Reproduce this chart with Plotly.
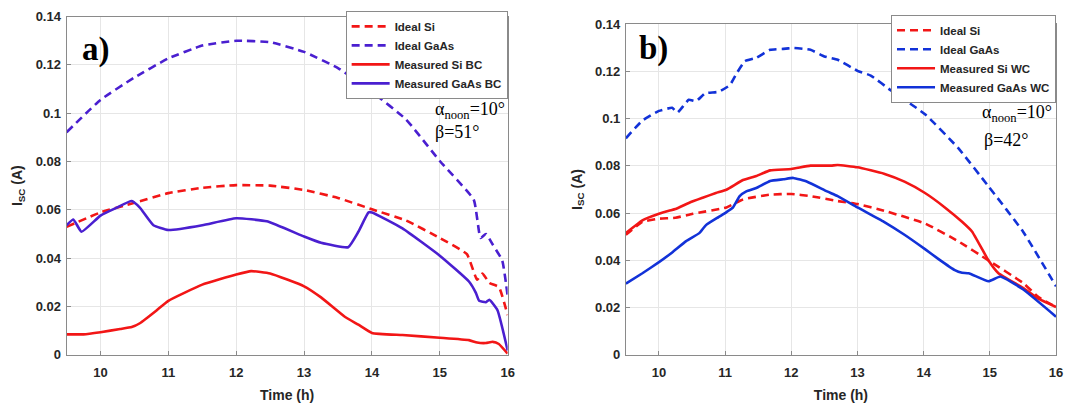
import plotly.graph_objects as go

# ---------------- data ----------------
# Panel a) (BC)
a_ideal_gaas_t = [9.5, 10.0, 10.5, 11.0, 11.5, 12.0, 12.5, 13.0, 13.5, 14.0, 14.5, 15.0, 15.5, 15.6, 15.68, 15.78, 15.92, 16.0]
a_ideal_gaas_v = [0.0921, 0.1055, 0.1148, 0.1227, 0.128, 0.130, 0.1294, 0.1254, 0.1187, 0.1088, 0.0975, 0.0802, 0.0642, 0.0483, 0.050, 0.0456, 0.039, 0.0243]

a_ideal_si_t = [9.5, 10.0, 10.5, 11.0, 11.5, 12.0, 12.5, 13.0, 13.5, 14.0, 14.5, 15.0, 15.4, 15.55, 15.63, 15.73, 15.87, 16.0]
a_ideal_si_v = [0.0529, 0.0589, 0.0629, 0.0669, 0.0691, 0.0702, 0.070, 0.0682, 0.0649, 0.0602, 0.0556, 0.0483, 0.0416, 0.031, 0.0336, 0.0297, 0.028, 0.0164]

a_meas_gaas_t = [9.5, 9.6, 9.72, 10.0, 10.24, 10.46, 10.58, 10.78, 11.0, 11.5, 12.0, 12.45, 13.0, 13.25, 13.65, 13.8, 13.95, 14.0, 14.45, 15.0, 15.43, 15.53, 15.58, 15.68, 15.73, 15.85, 16.0]
a_meas_gaas_v = [0.0536, 0.056, 0.0509, 0.0576, 0.0609, 0.0636, 0.0609, 0.0536, 0.0516, 0.0536, 0.0565, 0.0552, 0.0489, 0.0463, 0.0445, 0.0509, 0.0589, 0.0589, 0.0523, 0.041, 0.0303, 0.0257, 0.0223, 0.0217, 0.0227, 0.0184, 0.0017]

a_meas_si_t = [9.5, 9.75, 10.0, 10.29, 10.46, 10.58, 10.83, 11.0, 11.5, 12.0, 12.22, 12.5, 13.0, 13.25, 13.6, 13.8, 14.0, 14.45, 15.0, 15.43, 15.55, 15.68, 15.78, 15.87, 16.0]
a_meas_si_v = [0.0084, 0.0084, 0.0093, 0.0106, 0.0114, 0.013, 0.0184, 0.0223, 0.029, 0.0332, 0.0346, 0.0336, 0.0283, 0.0237, 0.0157, 0.0124, 0.009, 0.0081, 0.007, 0.006, 0.005, 0.0048, 0.0053, 0.0044, 0.0004]

# Panel b) (WC)
b_ideal_gaas_t = [9.5, 9.75, 10.0, 10.2, 10.28, 10.45, 10.56, 10.7, 10.9, 11.07, 11.17, 11.3, 11.47, 11.68, 11.88, 12.03, 12.29, 12.5, 12.7, 13.0, 13.2, 13.5, 14.02, 14.52, 14.98, 15.5, 16.0]
b_ideal_gaas_v = [0.0917, 0.0992, 0.1033, 0.1046, 0.1026, 0.108, 0.1074, 0.1108, 0.1114, 0.1142, 0.119, 0.1244, 0.1258, 0.1292, 0.1296, 0.130, 0.1292, 0.1264, 0.125, 0.1203, 0.1183, 0.1121, 0.1019, 0.0876, 0.0713, 0.0522, 0.029]

b_ideal_si_t = [9.5, 9.75, 10.0, 10.25, 10.51, 11.02, 11.27, 11.68, 12.0, 12.29, 12.7, 13.0, 13.4, 14.02, 14.52, 14.98, 15.5, 15.74, 16.0]
b_ideal_si_v = [0.0508, 0.0563, 0.0576, 0.058, 0.0597, 0.0624, 0.0658, 0.0678, 0.0681, 0.0672, 0.0651, 0.0638, 0.061, 0.0556, 0.0481, 0.0399, 0.0304, 0.0243, 0.0202]

b_meas_si_t = [9.5, 9.75, 10.0, 10.15, 10.25, 10.46, 10.66, 10.86, 11.02, 11.27, 11.47, 11.68, 12.0, 12.29, 12.6, 12.7, 13.0, 13.4, 13.71, 14.02, 14.32, 14.58, 14.73, 14.98, 15.13, 15.5, 15.74, 16.0]
b_meas_si_v = [0.0515, 0.0569, 0.0597, 0.061, 0.0617, 0.0644, 0.0665, 0.0685, 0.0699, 0.074, 0.0757, 0.0781, 0.0787, 0.0801, 0.0801, 0.0804, 0.0794, 0.0767, 0.0733, 0.0685, 0.0624, 0.0563, 0.0522, 0.0399, 0.0345, 0.0283, 0.0236, 0.0202]

b_meas_gaas_t = [9.5, 9.75, 10.0, 10.2, 10.41, 10.61, 10.71, 10.9, 11.02, 11.12, 11.22, 11.32, 11.47, 11.68, 11.88, 12.03, 12.24, 12.54, 12.7, 13.0, 13.4, 13.71, 14.02, 14.22, 14.47, 14.58, 14.68, 14.98, 15.16, 15.5, 16.0]
b_meas_gaas_v = [0.0301, 0.0345, 0.0392, 0.0433, 0.0481, 0.0515, 0.0549, 0.0583, 0.0604, 0.0624, 0.0672, 0.0692, 0.0706, 0.0736, 0.0743, 0.0749, 0.0733, 0.0692, 0.0672, 0.0624, 0.0563, 0.0508, 0.0447, 0.0406, 0.0358, 0.0347, 0.0345, 0.0311, 0.0331, 0.0277, 0.0161]

y_tickvals = [0, 0.02, 0.04, 0.06, 0.08, 0.1, 0.12, 0.14]
y_ticktext = ["0", "0.02", "0.04", "0.06", "0.08", "0.1", "0.12", "0.14"]
x_tickvals = [10, 11, 12, 13, 14, 15, 16]
x_ticktext = ["10", "11", "12", "13", "14", "15", "16"]

# ---------------- style ----------------
RED = "#f21616"
PURPLE = "#4a1fd0"
BLUE = "#1232d8"
LW = 2.6
DASH = "8px,5px"
W, H = 1067, 405

fig = go.Figure()

def add(x, y, name, color, dash, xa, ya, legend):
    fig.add_trace(go.Scatter(
        x=x, y=y, name=name, mode="lines",
        line=dict(color=color, width=LW, dash=dash, shape="spline", smoothing=0.4),
        xaxis=xa, yaxis=ya, legend=legend))

add(a_ideal_si_t, a_ideal_si_v, "Ideal Si", RED, DASH, "x", "y", "legend")
add(a_ideal_gaas_t, a_ideal_gaas_v, "Ideal GaAs", PURPLE, DASH, "x", "y", "legend")
add(a_meas_si_t, a_meas_si_v, "Measured Si BC", RED, "solid", "x", "y", "legend")
add(a_meas_gaas_t, a_meas_gaas_v, "Measured GaAs BC", PURPLE, "solid", "x", "y", "legend")

add(b_ideal_si_t, b_ideal_si_v, "Ideal Si", RED, DASH, "x2", "y2", "legend2")
add(b_ideal_gaas_t, b_ideal_gaas_v, "Ideal GaAs", BLUE, DASH, "x2", "y2", "legend2")
add(b_meas_si_t, b_meas_si_v, "Measured Si WC", RED, "solid", "x2", "y2", "legend2")
add(b_meas_gaas_t, b_meas_gaas_v, "Measured GaAs WC", BLUE, "solid", "x2", "y2", "legend2")

def px_x(p):
    return p / W

def px_y(p):
    return 1 - p / H

SANS = "Arial, Liberation Sans, sans-serif"
TICKFONT = dict(family=SANS, size=13, color="#262626", weight="bold")
TITLEFONT = dict(family=SANS, size=14, color="#262626", weight="bold")
LEGFONT = dict(family=SANS, size=11.5, color="#262626", weight="bold")

axis_common = dict(showgrid=True, gridcolor="#e6e6e6", gridwidth=1, showline=True,
                   linecolor="#8a8a8a", linewidth=1, mirror=True, ticks="inside",
                   ticklen=4, tickcolor="#8a8a8a", zeroline=False, tickfont=TICKFONT)

def xax(domain, anchor):
    return dict(domain=domain, range=[9.5, 16], anchor=anchor,
                tickvals=x_tickvals, ticktext=x_ticktext, ticklabelstandoff=6,
                title=dict(text="Time (h)", font=TITLEFONT, standoff=10), **axis_common)

def yax(domain, anchor):
    return dict(domain=domain, range=[0, 0.14], anchor=anchor,
                tickvals=y_tickvals, ticktext=y_ticktext, ticklabelstandoff=2,
                title=dict(text="I<sub>SC</sub> (A)", font=TITLEFONT, standoff=9), **axis_common)

fig.update_layout(
    width=W, height=H, margin=dict(l=0, r=0, t=0, b=0),
    paper_bgcolor="white", plot_bgcolor="white",
    xaxis=xax([px_x(67), px_x(511)], "y"),
    yaxis=yax([px_y(361), px_y(10)], "x"),
    xaxis2=xax([px_x(630), px_x(1063)], "y2"),
    yaxis2=yax([px_y(361), px_y(18)], "x2"),
    legend=dict(x=px_x(511), y=px_y(4), xanchor="right", yanchor="top",
                bgcolor="white", bordercolor="#8a8a8a", borderwidth=1,
                font=LEGFONT, tracegroupgap=0, itemwidth=38),
    legend2=dict(x=px_x(1063), y=px_y(8), xanchor="right", yanchor="top",
                 bgcolor="white", bordercolor="#8a8a8a", borderwidth=1,
                 font=LEGFONT, tracegroupgap=0, itemwidth=38),
    showlegend=True,
)

SERIF = "Times New Roman, Liberation Serif, serif"
ann = [
    dict(text="<b>a)</b>", x=px_x(82), y=px_y(44), size=33, ya="middle"),
    dict(text="<b>b)</b>", x=px_x(642), y=px_y(43), size=33, ya="middle"),
    dict(text="α<sub>noon</sub>=10°", x=px_x(437), y=px_y(94), size=18, ya="top"),
    dict(text="β=51°", x=px_x(437), y=px_y(130), size=18, ya="middle"),
    dict(text="α<sub>noon</sub>=10°", x=px_x(987), y=px_y(98), size=18, ya="top"),
    dict(text="β=42°", x=px_x(989), y=px_y(138), size=18, ya="middle"),
]
for a in ann:
    fig.add_annotation(text=a["text"], x=a["x"], y=a["y"], xref="paper", yref="paper",
                       xanchor="left", yanchor=a["ya"], showarrow=False, borderpad=0,
                       font=dict(family=SERIF, size=a["size"], color="black"))

fig.write_html("out.html")
